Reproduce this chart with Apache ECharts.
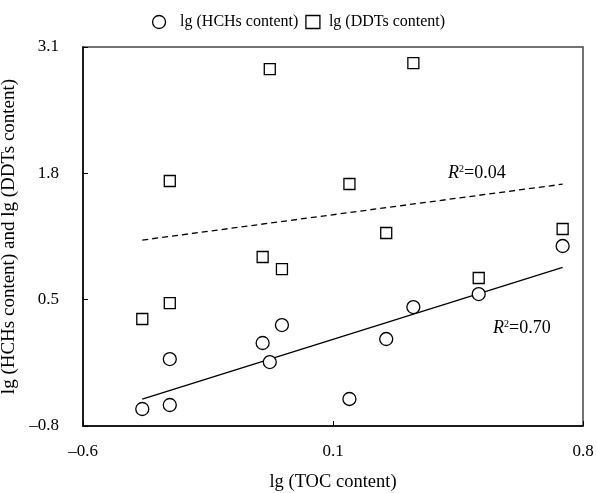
<!DOCTYPE html>
<html><head><meta charset="utf-8">
<script src="https://cdn.jsdelivr.net/npm/echarts@6/dist/echarts.min.js"></script>
<style>html,body{margin:0;padding:0;background:#fff}#c{width:597px;height:493px}</style>
</head><body><div id="c"></div>
<script>
var tocX = [-0.434, -0.357, -0.357, -0.097, -0.077, -0.043, 0.146, 0.249, 0.325, 0.508, 0.743];
var hchY = [-0.625, -0.584, -0.111, 0.054, -0.142, 0.239, -0.522, 0.095, 0.424, 0.558, 1.052];
var ddtY = [0.301, 1.721, 0.465, 0.939, 2.873, 0.815, 1.690, 1.186, 2.935, 0.723, 1.227];
var xTicks = [-0.6, 0.1, 0.8];
var yTicks = [-0.8, 0.5, 1.8, 3.1];
var r2Labels = ['0.04', '0.70'];

function fit(xs, ys) {
  var n = xs.length, sx = 0, sy = 0, sxx = 0, sxy = 0;
  for (var i = 0; i < n; i++) { sx += xs[i]; sy += ys[i]; sxx += xs[i]*xs[i]; sxy += xs[i]*ys[i]; }
  var b = (n*sxy - sx*sy) / (n*sxx - sx*sx);
  var a = (sy - b*sx) / n;
  var x0 = Math.min.apply(null, xs), x1 = Math.max.apply(null, xs);
  return [[x0, a + b*x0], [x1, a + b*x1]];
}
function pairs(xs, ys) { return xs.map(function (x, i) { return [x, ys[i]]; }); }
function fmt(v) { var s = (Math.round(v*10)/10).toFixed(1); return s.replace('-', '\u2013'); }

var font = 'Liberation Serif';
var r2Rich = {
  i: { fontFamily: font, fontStyle: 'italic', fontSize: 18, fill: '#000' },
  s: { fontFamily: font, fontSize: 10, verticalAlign: 'top', padding: [0, 0, 8, 0], fill: '#000' },
  n: { fontFamily: font, fontSize: 18, fill: '#000' }
};
var chart = echarts.init(document.getElementById('c'));
chart.setOption({
  animation: false,
  textStyle: { fontFamily: font, color: '#000' },
  legend: {
    top: 9, left: 'center', itemGap: 7, itemWidth: 14, itemHeight: 13,
    textStyle: { fontFamily: font, fontSize: 16, color: '#000', padding: [0, 0, 0, 9] },
    data: [
      { name: 'lg (HCHs content)', icon: 'circle', itemStyle: { color: '#fff', borderColor: '#000', borderWidth: 1.3 } },
      { name: 'lg (DDTs content)', icon: 'rect', itemStyle: { color: '#fff', borderColor: '#000', borderWidth: 1.3 },
        textStyle: { fontFamily: font, fontSize: 16, color: '#000', padding: [0, 0, 0, 4] } }
    ]
  },
  grid: { left: 83, right: 14, top: 47, bottom: 67, show: true, borderColor: '#444', borderWidth: 1.5,
          containLabel: false, outerBoundsMode: 'none' },
  xAxis: {
    type: 'value', min: xTicks[0], max: xTicks[xTicks.length-1], interval: 0.7,
    name: 'lg (TOC content)', nameLocation: 'middle', nameGap: 47,
    nameTextStyle: { fontFamily: font, fontSize: 18.5, color: '#000' },
    axisLine: { onZero: false, lineStyle: { color: '#000', width: 1.5 } },
    axisTick: { inside: true, length: 5, lineStyle: { color: '#000' } },
    axisLabel: { fontFamily: font, fontSize: 17, color: '#000', margin: 17, formatter: fmt },
    splitLine: { show: false }
  },
  yAxis: {
    type: 'value', min: yTicks[0], max: yTicks[yTicks.length-1], interval: 1.3,
    name: 'lg (HCHs content) and lg (DDTs content)', nameLocation: 'middle', nameGap: 51,
    nameTextStyle: { fontFamily: font, fontSize: 19, color: '#000' },
    axisLine: { onZero: false, lineStyle: { color: '#000', width: 1.5 } },
    axisTick: { inside: true, length: 5, lineStyle: { color: '#000' } },
    axisLabel: { fontFamily: font, fontSize: 17, color: '#000', margin: 24, formatter: fmt },
    splitLine: { show: false }
  },
  series: [
    { name: 'lg (HCHs content)', type: 'scatter', symbol: 'circle', symbolSize: 13, z: 3,
      itemStyle: { color: '#fff', borderColor: '#000', borderWidth: 1.3, opacity: 1 },
      data: pairs(tocX, hchY) },
    { name: 'lg (DDTs content)', type: 'scatter', symbol: 'rect', symbolSize: 11, z: 3,
      itemStyle: { color: '#fff', borderColor: '#000', borderWidth: 1.3, opacity: 1 },
      data: pairs(tocX, ddtY) },
    { name: 'fitH', type: 'line', showSymbol: false, symbol: 'none', z: 2,
      lineStyle: { color: '#000', width: 1.3 }, data: fit(tocX, hchY) },
    { name: 'fitD', type: 'line', showSymbol: false, symbol: 'none', z: 2,
      lineStyle: { color: '#000', width: 1.3, type: [6, 4] }, data: fit(tocX, ddtY) }
  ],
  graphic: [
    { type: 'text', left: 448, top: 164, style: { text: '{i|R}{s|2}{n|=' + r2Labels[0] + '}', rich: r2Rich } },
    { type: 'text', left: 493, top: 319, style: { text: '{i|R}{s|2}{n|=' + r2Labels[1] + '}', rich: r2Rich } }
  ]
});
</script></body></html>
